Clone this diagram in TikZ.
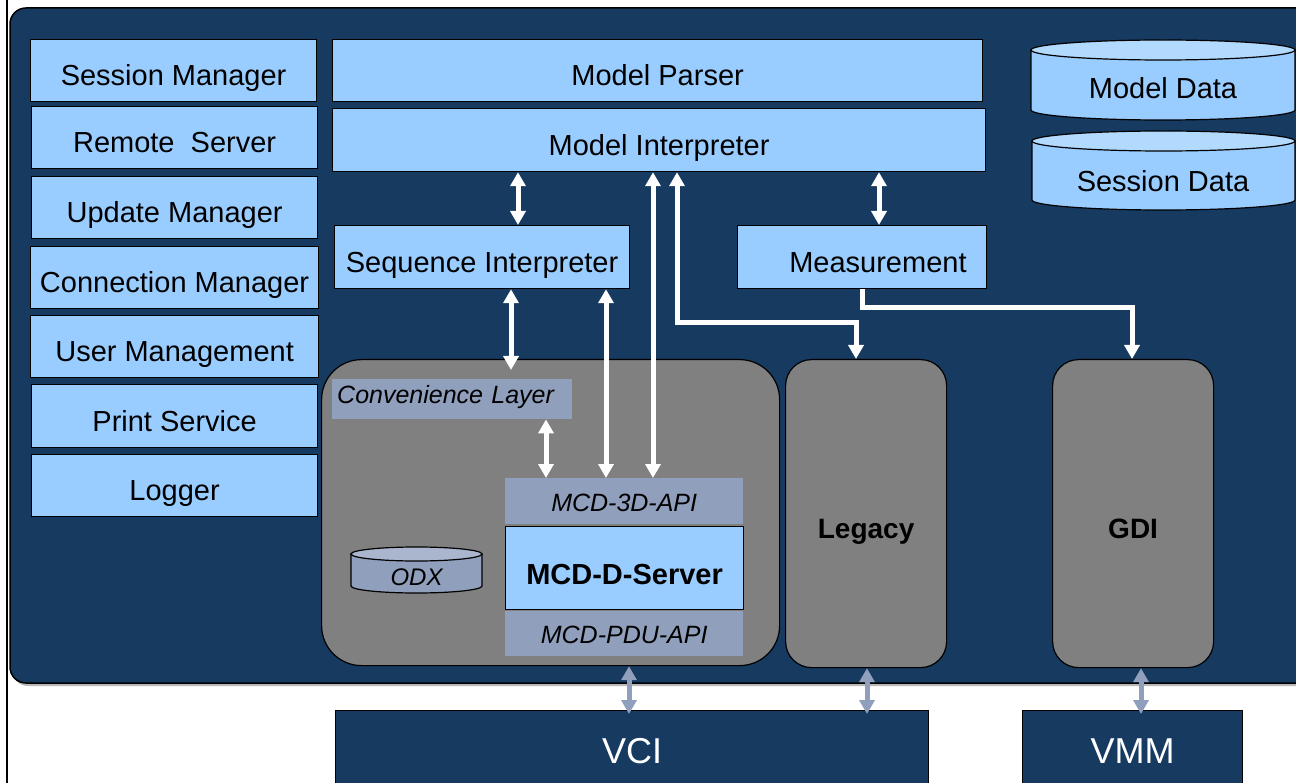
\documentclass[tikz,border=0pt]{standalone}
\usepackage{fontspec}
\setmainfont{Liberation Sans}
\usetikzlibrary{arrows.meta}

\definecolor{panel}{HTML}{163A60}
\definecolor{lblue}{HTML}{99CCFF}
\definecolor{lbluetop}{HTML}{B2DAFF}
\definecolor{mgray}{HTML}{808080}
\definecolor{gblue}{HTML}{8F9FBC}
\definecolor{gbluetop}{HTML}{A9B6CE}

\tikzset{
  box/.style={draw=black, line width=1.2pt, fill=lblue, inner sep=0pt,
    anchor=north west, text height=30pt, text depth=0pt,
    font=\fontsize{29}{34}\selectfont},
  api/.style={fill=gblue, inner sep=0pt, anchor=north west,
    text height=21pt, text depth=0pt,
    font=\fontsize{25}{30}\selectfont\itshape},
  rbox/.style={draw=black, line width=1.2pt, fill=mgray, inner sep=0pt,
    anchor=north west, text height=50pt, text depth=0pt,
    font=\fontsize{28}{33}\selectfont\bfseries},
  ext/.style={draw=black, line width=1.2pt, fill=panel, inner sep=0pt,
    anchor=north west, text=white, text height=26pt, text depth=0pt,
    font=\fontsize{36}{42}\selectfont},
  lbl/.style={inner sep=0pt, font=\fontsize{29}{34}\selectfont},
  warrow/.style={draw=white, line width=5pt, {Triangle[width=15pt,length=14pt]}-{Triangle[width=15pt,length=14pt]}},
  wline/.style={draw=white, line width=5pt, -{Triangle[width=15pt,length=14pt]}},
  garrow/.style={draw=gblue, line width=5pt, {Triangle[width=15pt,length=14pt]}-{Triangle[width=15pt,length=14pt]}},
}

\begin{document}
\begin{tikzpicture}[x=1pt,y=-1pt]
\clip (0,0) rectangle (1296,783);
\fill[white] (0,0) rectangle (1296,783);

% page rule at the left
\draw[line width=2pt] (7,0) -- (7,783);

% main dark panel with its soft shadow
\fill[gray!55, rounded corners=16pt] (12,10) rectangle (1330,686);
\draw[line width=1.5pt, fill=panel, rounded corners=16pt] (10,8) rectangle (1330,683);

% service column
\node[box, minimum width=286pt, minimum height=62pt] (sm)  at (30,39)  {Session Manager};
\node[box, minimum width=286pt, minimum height=62pt] (rs)  at (31,106) {Remote~~Server};
\node[box, minimum width=286pt, minimum height=62pt] (upd) at (31,176) {Update Manager};
\node[box, minimum width=288pt, minimum height=62pt] (cm)  at (30,246) {Connection Manager};
\node[box, minimum width=288pt, minimum height=62pt] (usr) at (30,315) {User Management};
\node[box, minimum width=286pt, minimum height=63pt] (ps)  at (31,384) {Print Service};
\node[box, minimum width=286pt, minimum height=62pt] (lg)  at (31,454) {Logger};

% model layers
\node[box, minimum width=650pt, minimum height=62pt] (mp)  at (332,39)  {Model Parser};
\node[box, minimum width=653pt, minimum height=63pt] (mi)  at (332,108) {Model Interpreter};
\node[box, minimum width=295pt, minimum height=63pt] (seq) at (334,225) {Sequence Interpreter};
\node[box, minimum height=63pt, text width=209pt, inner xsep=20pt, align=right] (meas) at (737,225) {Measurement};

% data stores
\filldraw[line width=1.2pt, fill=lblue] (1031,50) -- (1031,110)
  arc[start angle=180, end angle=0, x radius=132, y radius=10] -- (1295,50) -- cycle;
\filldraw[line width=1.2pt, fill=lbluetop] (1163,50) ellipse [x radius=132, y radius=10];
\node[lbl] (md) at (1163,88) {Model Data};
\filldraw[line width=1.2pt, fill=lblue] (1032,141) -- (1032,200)
  arc[start angle=180, end angle=0, x radius=131.5, y radius=10] -- (1295,141) -- cycle;
\filldraw[line width=1.2pt, fill=lbluetop] (1163.5,141) ellipse [x radius=131.5, y radius=10];
\node[lbl] (sd) at (1163,181) {Session Data};

% MCD container
\node[rbox, rounded corners=40pt, minimum width=458pt, minimum height=306pt] (mcd) at (321,359) {};
\node[api, minimum height=40pt, text width=230pt, inner xsep=5pt, align=left, text height=8pt] (conv) at (332,379) {Convenience Layer};
\node[api, minimum width=238pt, minimum height=46pt] (api3) at (505,478) {MCD-3D-API};
\node[box, minimum width=238pt, minimum height=83pt, text height=32pt, font=\fontsize{29}{34}\selectfont\bfseries] (srv) at (505,526) {MCD-D-Server};
\node[api, minimum width=238pt, minimum height=45pt, text height=19pt] (pdu) at (505,611) {MCD-PDU-API};

% ODX store
\filldraw[line width=1.2pt, fill=gblue] (351,554) -- (351,586)
  arc[start angle=180, end angle=0, x radius=65.5, y radius=7] -- (482,554) -- cycle;
\filldraw[line width=1.2pt, fill=gbluetop] (416.5,554) ellipse [x radius=65.5, y radius=7];
\node[inner sep=0pt, font=\fontsize{24}{29}\selectfont\itshape] (odx) at (416.5,577) {ODX};

% legacy and GDI stacks
\node[rbox, rounded corners=26pt, minimum width=161pt, minimum height=308pt] (legacy) at (785,359) {Legacy};
\node[rbox, rounded corners=26pt, minimum width=161pt, minimum height=308pt] (gdi) at (1052,359) {GDI};

% external hardware layers
\node[ext, minimum width=593pt, minimum height=80pt] (vci) at (335,710) {VCI};
\node[ext, minimum width=220pt, minimum height=80pt] (vmm) at (1022,710) {VMM};

% white connectors inside the panel
\draw[warrow] (mi.south -| 518,0) -- (seq.north -| 518,0);
\draw[warrow] (mi.south -| 879,0) -- (meas.north -| 879,0);
\draw[warrow] (seq.south -| 511,0) -- ([yshift=9pt]conv.north -| 511,0);
\draw[warrow] (seq.south -| 606,0) -- (api3.north -| 606,0);
\draw[warrow] (mi.south -| 653,0) -- (api3.north -| 653,0);
\draw[warrow] (conv.south -| 546,0) -- (api3.north -| 546,0);
\draw[warrow] (mi.south -| 677,0) -- (677,323) -- (856,323) -- (legacy.north -| 856,0);
\draw[wline] (meas.south -| 862,0) -- (862,308) -- (1132,308) -- (gdi.north -| 1132,0);

% links to the hardware layers
\draw[garrow] (mcd.south -| 629,0) -- ([yshift=-4pt]vci.north -| 629,0);
\draw[garrow] (legacy.south -| 867,0) -- ([yshift=-4pt]vci.north -| 867,0);
\draw[garrow] (gdi.south -| 1141,0) -- ([yshift=-4pt]vmm.north -| 1141,0);
\end{tikzpicture}
\end{document}
